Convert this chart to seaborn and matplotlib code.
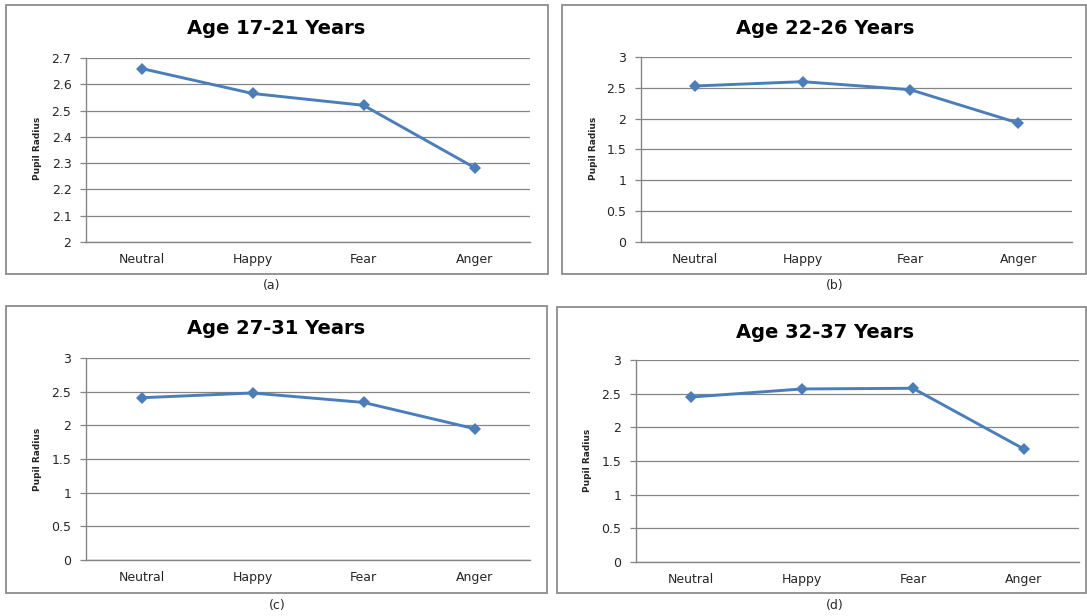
import matplotlib
matplotlib.use("Agg")
import matplotlib.pyplot as plt
from matplotlib.patches import Rectangle
import seaborn as sns

# Emotion categories shown on every panel
EMOTIONS = ["Neutral", "Happy", "Fear", "Anger"]

# Mean pupil radius per emotion, one list per age group
AGE_17_21 = [2.66, 2.565, 2.52, 2.283]
AGE_22_26 = [2.53, 2.60, 2.47, 1.93]
AGE_27_31 = [2.41, 2.48, 2.34, 1.95]
AGE_32_37 = [2.45, 2.57, 2.58, 1.68]

TITLES = ["Age 17-21 Years", "Age 22-26 Years", "Age 27-31 Years", "Age 32-37 Years"]
CAPTIONS = ["(a)", "(b)", "(c)", "(d)"]

# Y-axis ticks: the first panel is zoomed in, the others start at zero
TICKS_ZOOM = [2.0, 2.1, 2.2, 2.3, 2.4, 2.5, 2.6, 2.7]
LABELS_ZOOM = ["2", "2.1", "2.2", "2.3", "2.4", "2.5", "2.6", "2.7"]
TICKS_FULL = [0, 0.5, 1, 1.5, 2, 2.5, 3]
LABELS_FULL = ["0", "0.5", "1", "1.5", "2", "2.5", "3"]

W, H = 1087, 616
LINE_BLUE = "#4a7ebb"
GRID_GREY = "#858585"
FRAME_GREY = "#8c8c8c"

sns.set_theme(style="white")
plt.rcParams["font.family"] = ["DejaVu Sans"]

fig = plt.figure(figsize=(W / 100, H / 100), dpi=100)
fig.patch.set_facecolor("white")


def px_axes(left, top, right, bottom):
    """Create axes from pixel edges measured from the top-left corner."""
    return fig.add_axes([left / W, 1 - bottom / H, (right - left) / W, (bottom - top) / H])


def px_box(left, top, right, bottom):
    fig.patches.append(Rectangle((left / W, 1 - bottom / H), (right - left) / W,
                                 (bottom - top) / H, transform=fig.transFigure,
                                 fill=False, edgecolor=FRAME_GREY, linewidth=1.3))


panels = [
    # values, plot area (l, t, r, b), frame, title centre, caption centre, ylabel pos, ticks
    (AGE_17_21, (86, 58, 530, 242), (6, 5, 548, 274), (276, 29), (272, 285), (38, 148),
     TICKS_ZOOM, LABELS_ZOOM),
    (AGE_22_26, (641, 57, 1072, 242), (562, 5, 1086, 274), (825, 29), (835, 285), (593, 148),
     TICKS_FULL, LABELS_FULL),
    (AGE_27_31, (86, 358, 530, 560), (6, 306, 547, 593), (276, 329), (277, 605), (38, 459),
     TICKS_FULL, LABELS_FULL),
    (AGE_32_37, (636, 360, 1079, 562), (557, 307, 1086, 593), (825, 332), (835, 605), (588, 460),
     TICKS_FULL, LABELS_FULL),
]

for i, (vals, area, frame, tpos, cpos, ypos, ticks, labels) in enumerate(panels):
    px_box(*frame)
    ax = px_axes(*area)
    ax.set_facecolor("white")
    sns.lineplot(x=EMOTIONS, y=vals, sort=False, ax=ax, color=LINE_BLUE,
                 linewidth=2.1, marker="D", markersize=6.5, markeredgewidth=0,
                 markerfacecolor=LINE_BLUE)
    ax.set_xlim(-0.5, len(EMOTIONS) - 0.5)
    ax.set_ylim(ticks[0], ticks[-1])
    ax.set_yticks(ticks)
    ax.set_yticklabels(labels)
    ax.yaxis.grid(True, color=GRID_GREY, linewidth=0.9)
    ax.xaxis.grid(False)
    ax.set_axisbelow(True)
    for side in ("top", "right"):
        ax.spines[side].set_visible(False)
    for side in ("left", "bottom"):
        ax.spines[side].set_color(GRID_GREY)
        ax.spines[side].set_linewidth(1.0)
    ax.tick_params(axis="y", which="major", left=True, length=4.5, width=0.9,
                   color=GRID_GREY, pad=6, labelsize=9, labelcolor="#262626")
    ax.tick_params(axis="x", which="major", bottom=False, length=0, pad=8,
                   labelsize=9, labelcolor="#262626")
    ax.set_xlabel("")
    ax.set_ylabel("")
    fig.text(tpos[0] / W, 1 - tpos[1] / H, TITLES[i], ha="center", va="center",
             fontsize=14, fontweight="bold", color="black")
    fig.text(cpos[0] / W, 1 - cpos[1] / H, CAPTIONS[i], ha="center", va="center",
             fontsize=9, color="#262626")
    fig.text(ypos[0] / W, 1 - ypos[1] / H, "Pupil Radius", ha="center", va="center",
             rotation=90, fontsize=6.5, fontweight="bold", color="#262626")

fig.savefig("out.png", dpi=100, facecolor="white")
